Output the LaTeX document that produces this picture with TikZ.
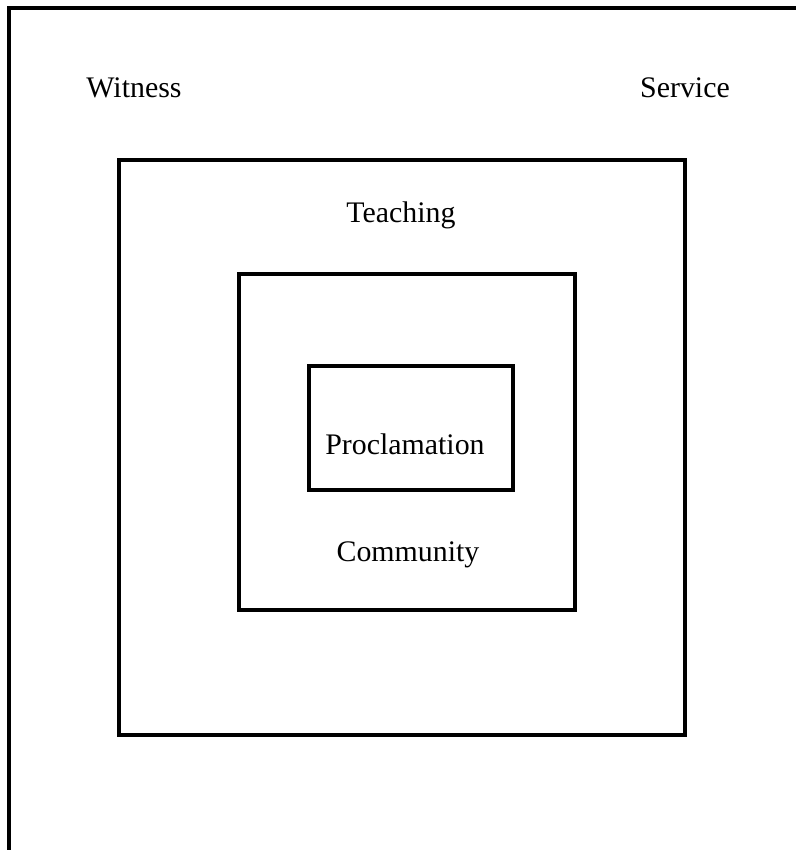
\documentclass[tikz,border=0pt]{standalone}
\usepackage{fontspec}
\setmainfont{Liberation Serif}
\usepackage{tikz}

\tikzset{
	frame/.style={line width=2.45pt},
	lbl/.style={anchor=base, inner sep=0pt, font=\fontsize{17}{20}\selectfont},
}

\begin{document}
\begin{tikzpicture}[x=0.02cm, y=-0.02cm]
	\path [use as bounding box] (0,0) rectangle (796,850);
	% open outer frame, then the nested squares
	\draw[frame] (9,850) -- (9,8) -- (796,8);
	\draw[frame] (119,160) rectangle (685,735);
	\draw[frame] (239,274) rectangle (575,610);
	\draw[frame] (309,366) rectangle (513,490);
	\node[lbl] (witness) at (134,97) {Witness};
	\node[lbl] (service) at (685,97) {Service};
	\node[lbl] (teaching) at (401,222) {Teaching};
	\node[lbl] (proclamation) at (405,454) {Proclamation};
	\node[lbl] (community) at (408,561) {Community};
\end{tikzpicture}
\end{document}
